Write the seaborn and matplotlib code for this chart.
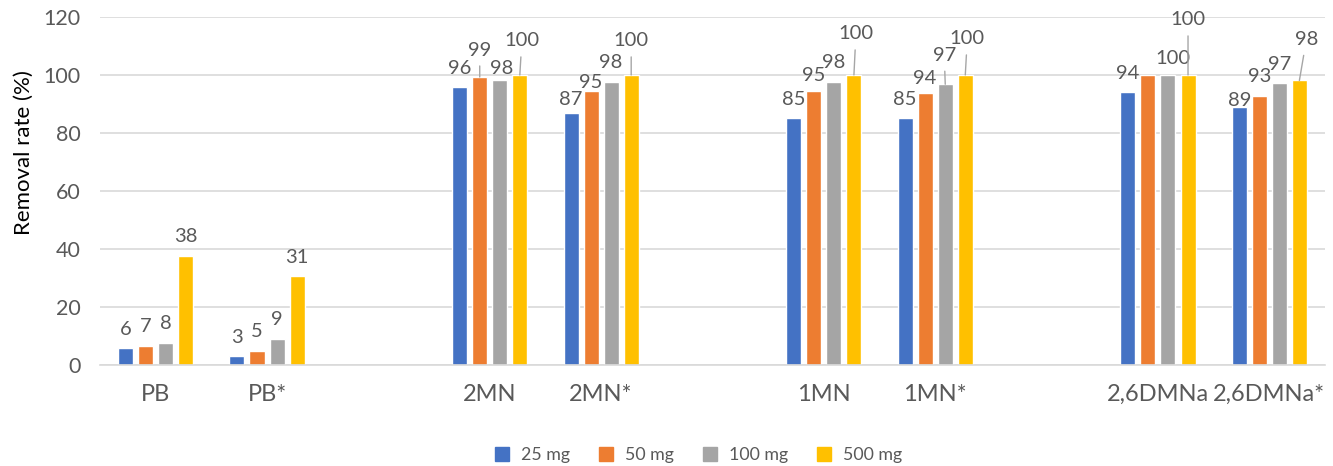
import matplotlib
matplotlib.use("Agg")
import pandas as pd
import matplotlib.pyplot as plt
import seaborn as sns
from matplotlib.lines import Line2D

# Categories (blank slots keep the gaps between compound pairs)
order = ["PB", "PB*", " ", "2MN", "2MN*", "  ", "1MN", "1MN*", "   ", "2,6DMNa", "2,6DMNa*"]
compounds = ["PB", "PB*", "2MN", "2MN*", "1MN", "1MN*", "2,6DMNa", "2,6DMNa*"]
doses = ["25 mg", "50 mg", "100 mg", "500 mg"]

# Removal rate (%) per dose
rate_25 = [5.7, 3.0, 95.8, 86.9, 85.0, 85.0, 94.0, 88.8]
rate_50 = [6.6, 4.8, 99.3, 94.6, 94.6, 93.7, 100.0, 92.8]
rate_100 = [7.6, 9.0, 98.2, 97.7, 97.6, 96.8, 100.0, 97.2]
rate_500 = [37.6, 30.6, 100.0, 100.0, 100.0, 100.0, 100.0, 98.1]

colors = ["#4472C4", "#ED7D31", "#A5A5A5", "#FFC000"]
text_col = "#595959"

# label placement tweaks (pixels: dx, dy of label centre above bar top); None = label hidden
label_offsets = {
    ("2MN", "50 mg"): (0, 27), ("2MN", "100 mg"): (2, 12), ("2MN", "500 mg"): (2, 34),
    ("2MN*", "25 mg"): (0, 13), ("2MN*", "50 mg"): (0, 8), ("2MN*", "500 mg"): (0, 34),
    ("1MN", "50 mg"): (0, 15), ("1MN", "500 mg"): (2, 41),
    ("1MN*", "50 mg"): (-1, 15), ("1MN*", "100 mg"): (-1, 29), ("1MN*", "500 mg"): (2, 36),
    ("2,6DMNa", "50 mg"): None, ("2,6DMNa", "100 mg"): (5, 16), ("2,6DMNa", "500 mg"): (0, 55),
    ("2,6DMNa*", "25 mg"): (0, 7), ("2,6DMNa*", "500 mg"): (7, 41),
}

df = pd.DataFrame({
    "compound": compounds * 4,
    "dose": [d for d in doses for _ in compounds],
    "rate": rate_25 + rate_50 + rate_100 + rate_500,
})

sns.set_style("white")
plt.rcParams["font.family"] = ["Lato", "DejaVu Sans"]

fig = plt.figure(figsize=(13.33, 4.66), dpi=100)
ax = fig.add_axes([0.075, 0.217, 0.919, 0.7465])

sns.barplot(data=df, x="compound", y="rate", hue="dose", order=order, hue_order=doses,
            palette=colors, width=0.72, gap=0.25, errorbar=None, legend=False, ax=ax,
            saturation=1)

ax.set_ylim(0, 120)
ax.set_xlim(-0.5, len(order) - 0.5)
ax.set_yticks(range(0, 121, 20))
ax.yaxis.grid(True, color="#d9d9d9", lw=1.2)
ax.set_axisbelow(True)
for s in ["top", "right", "left"]:
    ax.spines[s].set_visible(False)
ax.spines["bottom"].set_color("#d9d9d9")
ax.spines["bottom"].set_linewidth(1.2)
ax.tick_params(axis="x", length=0, pad=14, labelsize=17, labelcolor=text_col)
ax.tick_params(axis="y", length=0, pad=14, labelsize=15.5, labelcolor=text_col)
ax.set_xlabel("")
ax.set_ylabel("Removal rate (%)", fontsize=16, color="black")
ax.yaxis.set_label_coords(-0.054, 0.61)

# data labels
for dose, cont in zip(doses, ax.containers):
    for bar in cont:
        h = bar.get_height()
        if pd.isna(h) or h == 0:
            continue
        xc = bar.get_x() + bar.get_width() / 2
        comp = order[int(round(xc))]
        off = label_offsets.get((comp, dose), (0, 19))
        if off is None:
            continue
        dx, dy = off
        arrow = None
        if dy >= 27:
            arrow = dict(arrowstyle="-", color="#a6a6a6", lw=1, shrinkA=3, shrinkB=0)
        ax.annotate(f"{h:.0f}", xy=(xc, h), xytext=(dx, dy), textcoords="offset pixels",
                    ha="center", va="center", fontsize=14.5, color=text_col,
                    arrowprops=arrow, annotation_clip=False)

handles = [Line2D([], [], marker="s", linestyle="", markersize=9.5, color=c) for c in colors]
fig.legend(handles, doses, loc="center", bbox_to_anchor=(0.52, 0.024), ncol=4, frameon=False,
           fontsize=12.8, handletextpad=0.1, columnspacing=1.0, labelcolor=text_col)

fig.savefig("out.png", dpi=100)
